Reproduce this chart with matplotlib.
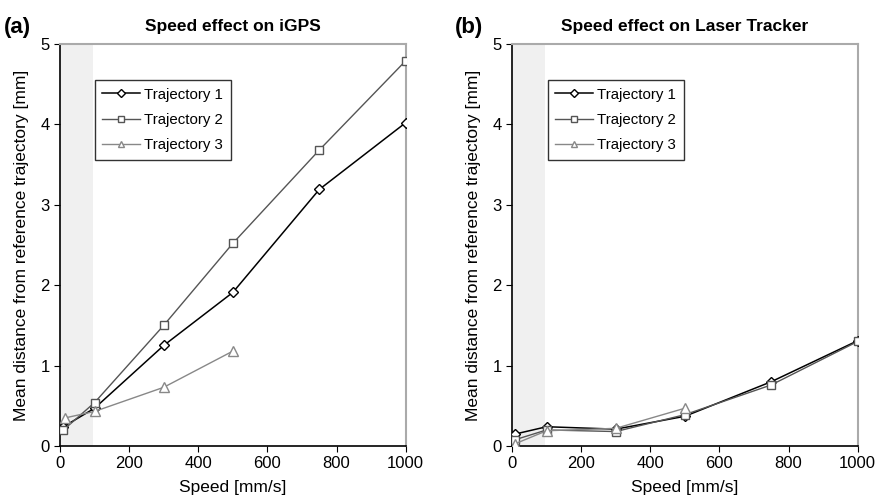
import numpy as np
import matplotlib
matplotlib.use('Agg')
import matplotlib.pyplot as plt

plt.rcParams['font.family'] = ['Liberation Sans', 'DejaVu Sans']

# iGPS
igps_x1 = [10, 100, 300, 500, 750, 1000]
igps_t1 = [0.24, 0.47, 1.25, 1.91, 3.19, 4.02]
igps_x2 = [10, 100, 300, 500, 750, 1000]
igps_t2 = [0.20, 0.54, 1.50, 2.52, 3.68, 4.79]
igps_x3 = [15, 100, 300, 500]
igps_t3 = [0.35, 0.43, 0.73, 1.18]

# laser tracker
lt_x1 = [10, 100, 300, 500, 750, 1000]
lt_t1 = [0.15, 0.24, 0.21, 0.37, 0.80, 1.31]
lt_x2 = [10, 100, 300, 500, 750, 1000]
lt_t2 = [0.08, 0.20, 0.18, 0.39, 0.76, 1.30]
lt_x3 = [10, 100, 300, 500]
lt_t3 = [0.03, 0.19, 0.22, 0.47]

shade_end = 95

fig = plt.figure(figsize=(8.82, 5.04), dpi=100)
ax_a = fig.add_axes([0.068, 0.115, 0.392, 0.798])
ax_b = fig.add_axes([0.5805, 0.115, 0.392, 0.798])

panels = [
    (ax_a, 'Speed effect on iGPS', [(igps_x1, igps_t1), (igps_x2, igps_t2), (igps_x3, igps_t3)], 0.101),
    (ax_b, 'Speed effect on Laser Tracker', [(lt_x1, lt_t1), (lt_x2, lt_t2), (lt_x3, lt_t3)], 0.104),
]

styles = [
    dict(color='black', marker='D', markersize=5, lw=1.1, label='Trajectory 1'),
    dict(color='#555555', marker='s', markersize=6, lw=1.0, label='Trajectory 2'),
    dict(color='#888888', marker='^', markersize=6.5, lw=1.0, label='Trajectory 3'),
]

for ax, title, series, legx in panels:
    ax.axvspan(0, shade_end, color='#f0f0f0', zorder=0, lw=0)
    for (x, y), st in zip(series, styles):
        ax.plot(x, y, markerfacecolor='white', markeredgecolor=st['color'],
                markeredgewidth=1.0, zorder=3, **st)
    ax.set_xlim(0, 1000)
    ax.set_ylim(0, 5)
    ax.set_xticks(np.arange(0, 1001, 200))
    ax.set_yticks(np.arange(0, 6, 1))
    ax.tick_params(direction='out', length=4, labelsize=12, top=False, right=False)
    ax.spines['left'].set_color('black')
    ax.spines['bottom'].set_color('black')
    ax.spines['left'].set_linewidth(1.2)
    ax.spines['bottom'].set_linewidth(1.2)
    ax.spines['top'].set_color('#aaaaaa')
    ax.spines['right'].set_color('#aaaaaa')
    ax.spines['top'].set_linewidth(1.5)
    ax.spines['right'].set_linewidth(1.5)
    ax.set_xlabel('Speed [mm/s]', fontsize=12.5, labelpad=6)
    ax.set_ylabel('Mean distance from reference trajectory [mm]', fontsize=12.5, labelpad=8)
    ax.set_title(title, fontsize=12.5, fontweight='bold', pad=9)
    leg = ax.legend(loc='upper left', bbox_to_anchor=(legx, 0.91), fontsize=10.8,
                    frameon=True, fancybox=False, edgecolor='black',
                    handlelength=2.5, handletextpad=0.3, borderpad=0.5,
                    labelspacing=0.75, markerscale=0.75, borderaxespad=0)
    leg.get_frame().set_linewidth(1.0)

fig.text(0.004, 0.935, '(a)', fontsize=16, fontweight='bold')
fig.text(0.516, 0.935, '(b)', fontsize=16, fontweight='bold')

fig.savefig('out.png', dpi=100)
